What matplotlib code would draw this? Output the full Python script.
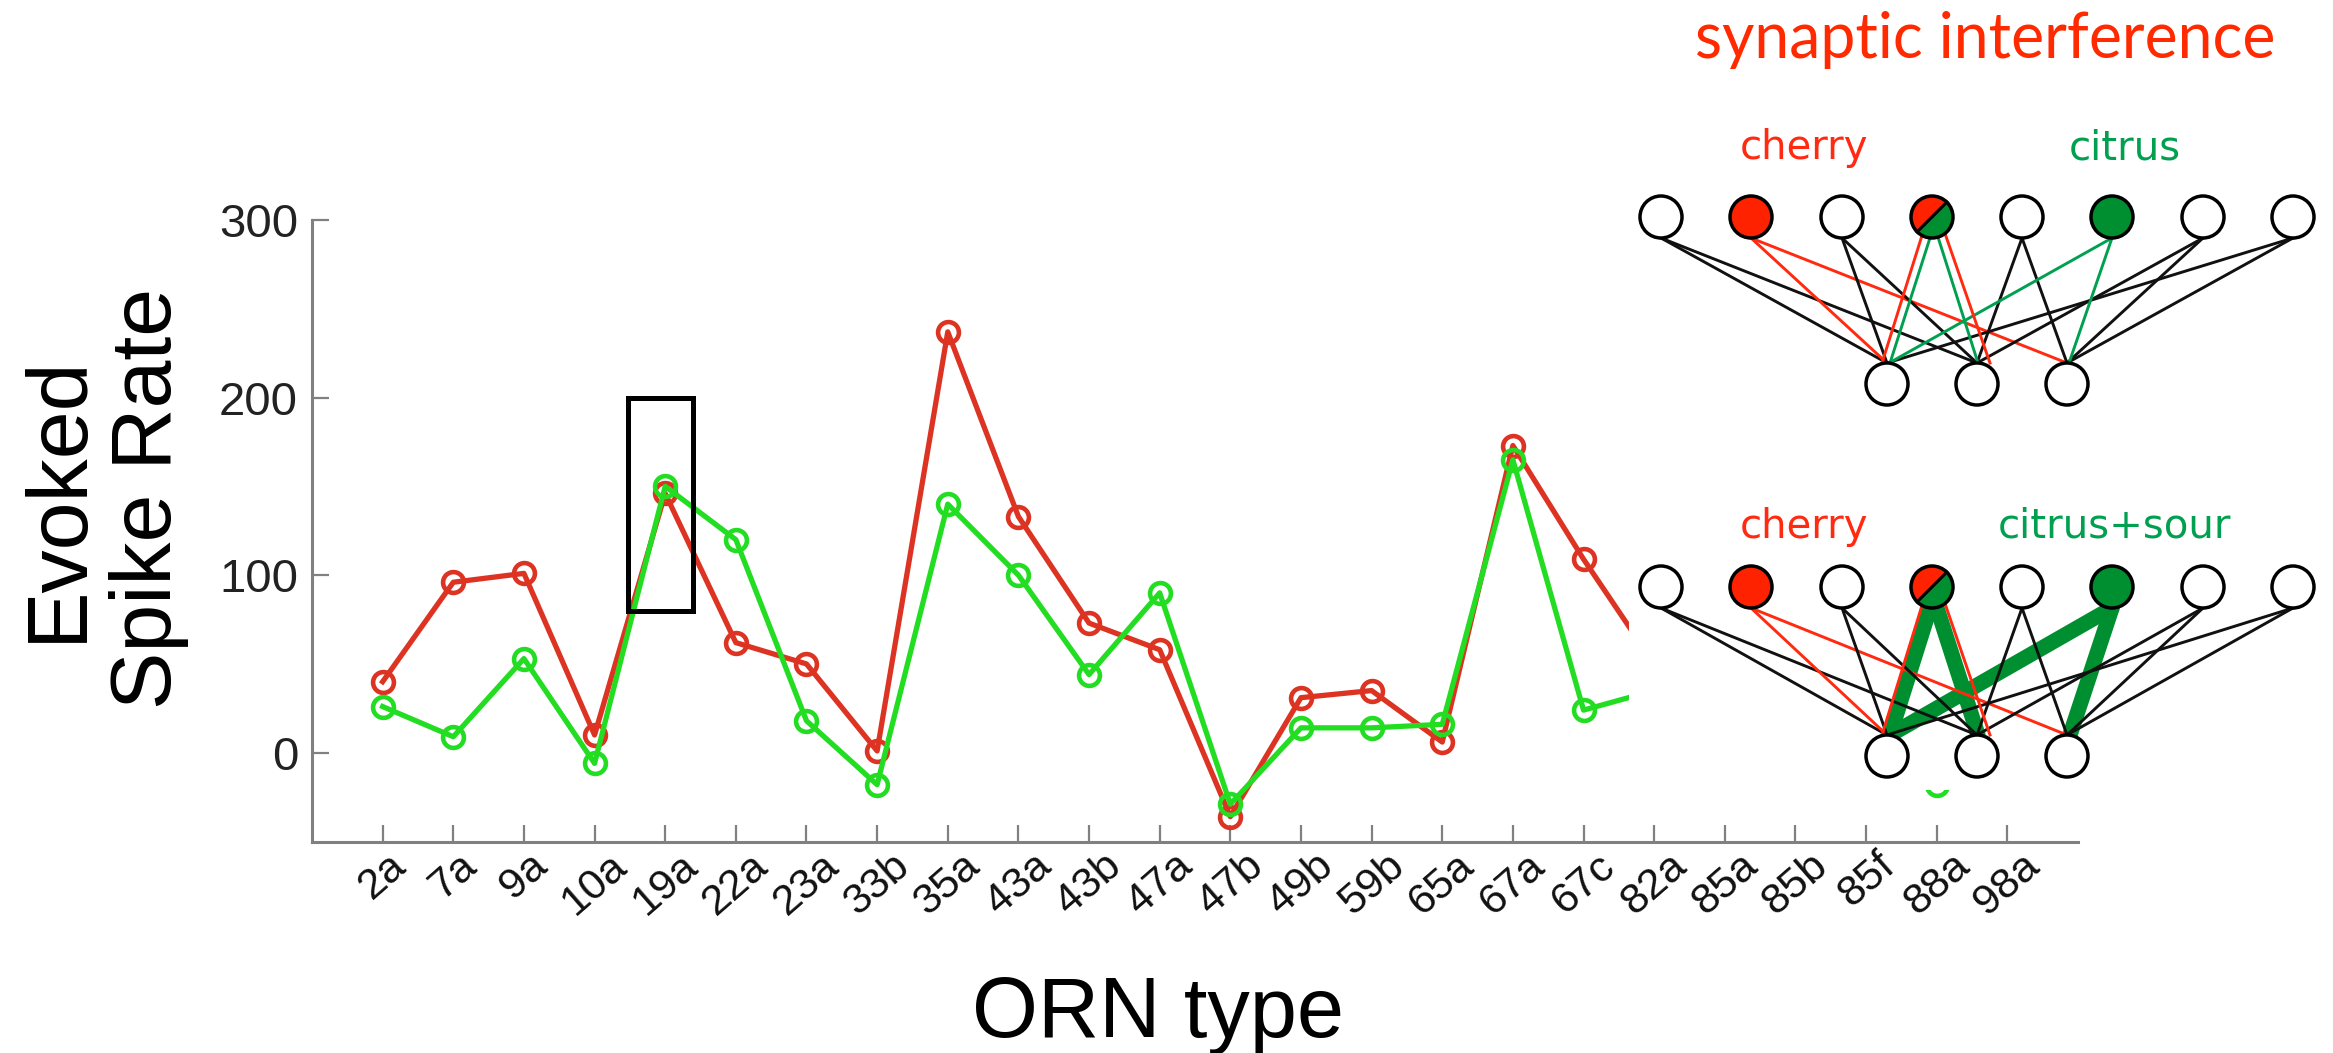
import math
import matplotlib
matplotlib.use('Agg')
import matplotlib.pyplot as plt
from matplotlib.patches import Circle, Wedge, Rectangle

# ---------------- data ----------------
orn_types = ['2a', '7a', '9a', '10a', '19a', '22a', '23a', '33b', '35a', '43a', '43b',
             '47a', '47b', '49b', '59b', '65a', '67a', '67c', '82a', '85a', '85b',
             '85f', '88a', '98a']
cherry_rate = [40, 96, 101, 10, 146, 62, 50, 1, 237, 133, 73, 58, -36, 31, 35, 6,
               173, 109, 50, 15, 25, 20, 30, 10]
citrus_rate = [26, 9, 53, -6, 150, 120, 18, -18, 140, 100, 44, 90, -29, 14, 14, 16,
               165, 24, 35, 10, 40, 15, -18, 5]
y_ticks = [0, 100, 200, 300]
y_tick_labels = ['0', '100', '200', '300']
box_x = (3.47, 4.39)
box_y = (80, 200)

# inset diagram (schematic)
top_x = [1661, 1751, 1842, 1932, 2022, 2112, 2203, 2293]
bot_x = [1887, 1977, 2067]
top_kind = ['w', 'r', 'w', 's', 'w', 'g', 'w', 'w']
edges = [(0, 0, 'k'), (0, 1, 'k'), (1, 0, 'r'), (1, 2, 'r'), (2, 0, 'k'), (2, 1, 'k'),
         (4, 1, 'k'), (4, 2, 'k'), (6, 1, 'k'), (6, 2, 'k'), (7, 0, 'k'), (7, 2, 'k')]
split_edges = [(3, 0, 'r', -10, -5), (3, 0, 'g', -2, 3), (3, 1, 'g', 6, 1), (3, 1, 'r', 13, 13)]
green6_edges = [(5, 0), (5, 2)]

W, H = 2333, 1053
RED = '#dd3322'
GREEN = '#22dd22'
GRAY = '#808080'
FONT = 'Liberation Sans'

fig = plt.figure(figsize=(W / 100, H / 100), dpi=100)
ax = fig.add_axes([312 / W, 1 - 841.5 / H, (2078 - 312) / W, (841.5 - 220) / H])
xs = list(range(len(orn_types)))
ax.plot(xs, cherry_rate, color=RED, lw=3.8, marker='o', ms=15, mfc='none', mew=3.3,
        zorder=3, clip_on=False)
ax.plot(xs, citrus_rate, color=GREEN, lw=3.8, marker='o', ms=15, mfc='none', mew=3.3,
        zorder=4, clip_on=False)
ax.add_patch(Rectangle((box_x[0], box_y[0]), box_x[1] - box_x[0], box_y[1] - box_y[0],
                       fill=False, lw=3.6, ec='black', zorder=6))
ax.set_xlim(-1, 24)
ax.set_ylim(-50, 300)
ax.set_xticks(xs)
ax.set_xticklabels(orn_types)
ax.set_yticks(y_ticks)
ax.set_yticklabels(y_tick_labels)
ax.tick_params(direction='in', length=12, width=1.6, color=GRAY)
ax.tick_params(axis='y', pad=10, labelsize=34, labelcolor='#222222')
ax.tick_params(axis='x', pad=3, labelsize=31, labelcolor='#111111', labelrotation=41)
for lab in ax.get_xticklabels():
    lab.set_fontfamily(FONT)
    lab.set_ha('center')
    lab.set_va('top')
for lab in ax.get_yticklabels():
    lab.set_fontfamily(FONT)
for s in ['top', 'right']:
    ax.spines[s].set_visible(False)
for s in ['left', 'bottom']:
    ax.spines[s].set_color(GRAY)
    ax.spines[s].set_linewidth(2.2)

fig.text(104 / W, 1 - 498 / H, 'Evoked\nSpike Rate', rotation=90, ha='center', va='center',
         multialignment='center', fontsize=62, family=FONT, linespacing=1.15)
fig.text(1158 / W, 1 - 1037 / H, 'ORN type', ha='center', va='baseline',
         fontsize=61, family=FONT)

# ---------------- inset schematic ----------------
x0, y1 = 1629, 790
ax2 = fig.add_axes([x0 / W, 1 - y1 / H, (W - x0) / W, y1 / H])
ax2.set_xlim(x0, W)
ax2.set_ylim(y1, 0)
ax2.set_xticks([])
ax2.set_yticks([])
for s in ax2.spines.values():
    s.set_visible(False)
ax2.set_facecolor('white')
ax2.set_zorder(10)

R = 21
CRED = '#ff2200'
CGREEN = '#008f30'
LRED = '#ff2a10'
LGREEN = '#00a050'
col = {'k': '#111111', 'r': LRED, 'g': LGREEN}
LW = 2.1


def panel(ty, by, thick):
    if thick:
        ax2.plot([1932 - 2, bot_x[0] + 3], [ty + R, by - R], color=CGREEN, lw=11,
                 solid_capstyle='round', zorder=2)
        ax2.plot([1932 + 5, bot_x[1] + 1], [ty + R, by - R], color=CGREEN, lw=11,
                 solid_capstyle='round', zorder=2)
        for (t, b) in green6_edges:
            ax2.plot([top_x[t], bot_x[b] + 3], [ty + R, by - R], color=CGREEN, lw=11,
                     solid_capstyle='round', zorder=2)
    for (t, b, c) in edges:
        ax2.plot([top_x[t], bot_x[b]], [ty + R, by - R], color=col[c], lw=LW, zorder=3)
    if not thick:
        for (t, b) in green6_edges:
            ax2.plot([top_x[t], bot_x[b] + 2], [ty + R, by - R], color=LGREEN, lw=LW, zorder=3)
    for (t, b, c, so, eo) in split_edges:
        if thick and c == 'g':
            continue
        sy = ty + math.sqrt(R * R - so * so) if abs(so) < R else ty
        ax2.plot([top_x[t] + so, bot_x[b] + eo], [sy, by - R], color=col[c], lw=LW, zorder=3)
    for x, k in zip(top_x, top_kind):
        if k == 's':
            ax2.add_patch(Wedge((x, ty), R, 135, 315, fc=CRED, ec='none', zorder=5))
            ax2.add_patch(Wedge((x, ty), R, 315, 495, fc=CGREEN, ec='none', zorder=5))
            d = R * math.cos(math.pi / 4)
            ax2.plot([x + d, x - d], [ty - d, ty + d], color='black', lw=2.2, zorder=6)
            ax2.add_patch(Circle((x, ty), R, fc='none', ec='black', lw=2.5, zorder=7))
        else:
            fc = {'w': 'white', 'r': CRED, 'g': CGREEN}[k]
            ax2.add_patch(Circle((x, ty), R, fc=fc, ec='black', lw=2.5, zorder=5))
    for x in bot_x:
        ax2.add_patch(Circle((x, by), R, fc='white', ec='black', lw=2.5, zorder=5))


panel(217, 384, False)
panel(587, 756, True)

ax2.text(1985, 58, 'synaptic interference', color='#ff2a00', fontsize=45, family='Lato',
         ha='center', va='baseline')
ax2.text(1804, 159, 'cherry', color=LRED, fontsize=29, family='DejaVu Sans',
         ha='center', va='baseline')
ax2.text(2125, 159, 'citrus', color=LGREEN, fontsize=29, family='DejaVu Sans',
         ha='center', va='baseline')
ax2.text(1804, 538, 'cherry', color=LRED, fontsize=29, family='DejaVu Sans',
         ha='center', va='baseline')
ax2.text(2115, 538, 'citrus+sour', color=LGREEN, fontsize=29, family='DejaVu Sans',
         ha='center', va='baseline')

fig.savefig('out.png', dpi=100, facecolor='white')
